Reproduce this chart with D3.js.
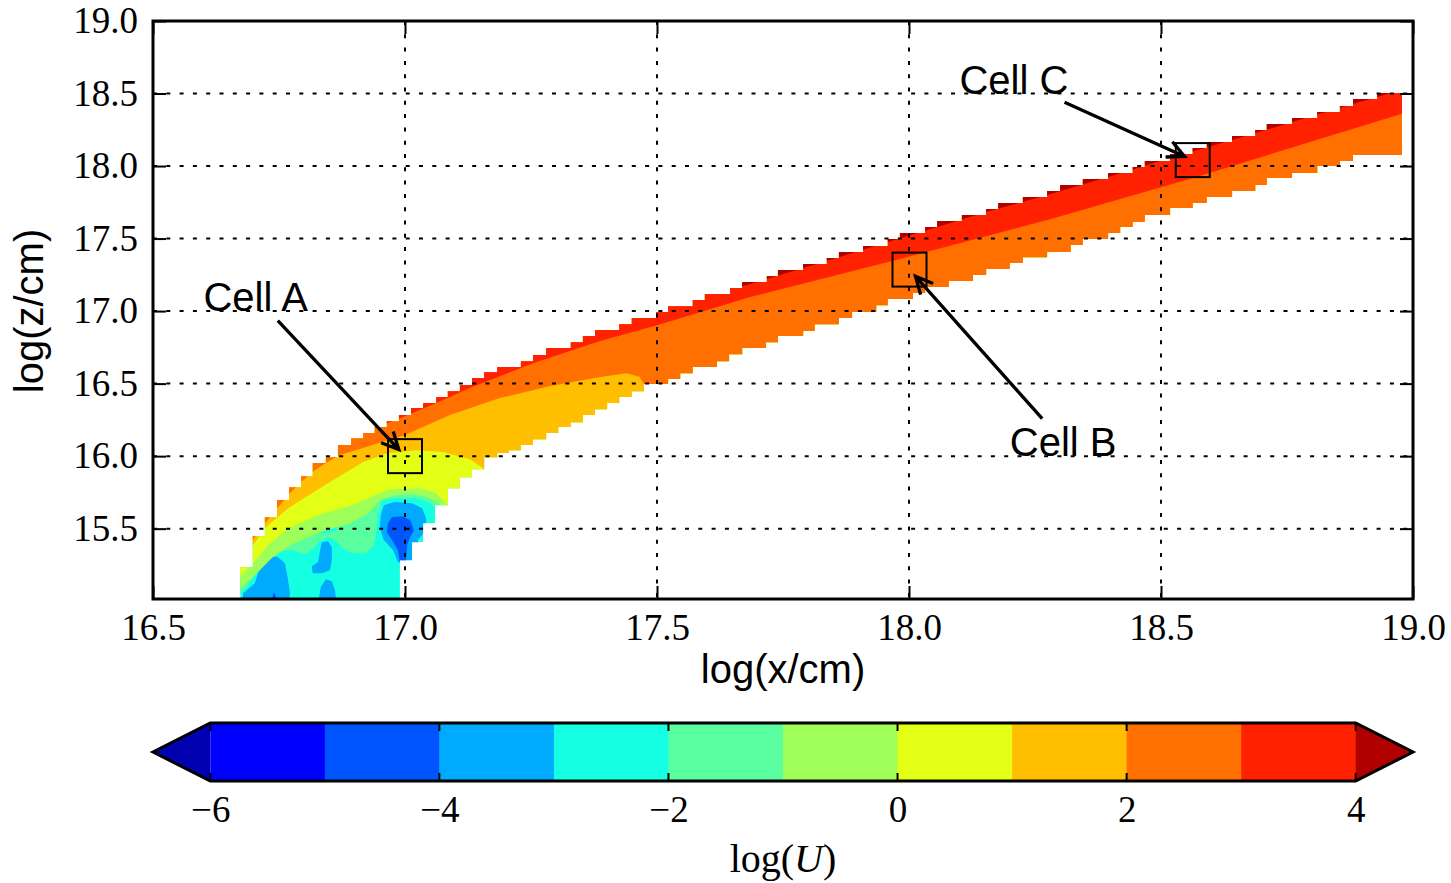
<!DOCTYPE html>
<html>
<head>
<meta charset="utf-8">
<script src="https://cdn.jsdelivr.net/npm/d3@7"></script>
<style>
  html, body { margin: 0; padding: 0; background: #fff; }
  svg { display: block; }
</style>
</head>
<body>
<svg id="chart" width="1451" height="883"></svg>
<script>
// ---------- data (log x [cm], log z [cm]) ----------
const xTicks = [16.5, 17.0, 17.5, 18.0, 18.5, 19.0];
const zTicks = [15.5, 16.0, 16.5, 17.0, 17.5, 18.0, 18.5, 19.0];
const levels = [-6, -5, -4, -3, -2, -1, 0, 1, 2, 3, 4];
const cbarTicks = [-6, -4, -2, 0, 2, 4];
// jet colours: under, ten bins, over
const levelColors = ["#0000b0", "#0000ff", "#0055ff", "#00aaff", "#15ffe2", "#59ff9e",
                     "#9eff59", "#e2ff15", "#ffbf00", "#ff7000", "#ff2100", "#b00000"];

// upper edge of the computed region, one step per grid column [x start, z]
const bandTop = [
  [16.673, 15.234], [16.698, 15.448], [16.722, 15.579], [16.746, 15.697], [16.770, 15.786],
  [16.794, 15.862], [16.817, 15.952], [16.843, 15.993], [16.867, 16.076], [16.893, 16.124],
  [16.917, 16.159], [16.940, 16.200], [16.964, 16.241], [16.988, 16.283], [17.012, 16.331],
  [17.036, 16.366], [17.062, 16.407], [17.085, 16.448], [17.109, 16.490], [17.133, 16.538],
  [17.157, 16.579], [17.183, 16.614], [17.230, 16.655], [17.254, 16.697], [17.280, 16.745],
  [17.329, 16.786], [17.353, 16.828], [17.377, 16.869], [17.425, 16.910], [17.450, 16.952],
  [17.498, 16.993], [17.522, 17.034], [17.571, 17.076], [17.595, 17.117], [17.645, 17.159],
  [17.669, 17.200], [17.718, 17.241], [17.740, 17.283], [17.790, 17.324], [17.837, 17.366],
  [17.861, 17.407], [17.909, 17.448], [17.958, 17.497], [17.982, 17.538], [18.032, 17.579],
  [18.056, 17.621], [18.105, 17.662], [18.153, 17.703], [18.177, 17.745], [18.226, 17.786],
  [18.274, 17.828], [18.300, 17.869], [18.345, 17.910], [18.395, 17.952], [18.444, 17.993],
  [18.468, 18.034], [18.518, 18.083], [18.563, 18.124], [18.591, 18.166], [18.641, 18.207],
  [18.687, 18.248], [18.710, 18.290], [18.760, 18.331], [18.810, 18.372], [18.855, 18.414],
  [18.881, 18.462], [18.929, 18.503], [18.978, 18.503]
];
// lower edge of the computed region [x start, z]
const bandBottom = [
  [16.673, 14.900], [16.990, 15.283], [17.014, 15.407], [17.036, 15.538], [17.060, 15.662],
  [17.085, 15.779], [17.109, 15.855], [17.133, 15.910], [17.157, 15.993], [17.183, 16.021],
  [17.206, 16.041], [17.230, 16.076], [17.254, 16.117], [17.280, 16.159], [17.304, 16.200],
  [17.329, 16.234], [17.353, 16.283], [17.377, 16.324], [17.401, 16.366], [17.425, 16.407],
  [17.450, 16.448], [17.474, 16.497], [17.522, 16.531], [17.546, 16.572], [17.571, 16.614],
  [17.619, 16.655], [17.643, 16.703], [17.669, 16.745], [17.716, 16.786], [17.740, 16.828],
  [17.790, 16.862], [17.813, 16.910], [17.861, 16.952], [17.887, 16.993], [17.935, 17.041],
  [17.958, 17.083], [18.008, 17.124], [18.032, 17.166], [18.079, 17.207], [18.127, 17.248],
  [18.153, 17.290], [18.200, 17.331], [18.226, 17.372], [18.274, 17.407], [18.321, 17.455],
  [18.345, 17.497], [18.395, 17.538], [18.419, 17.579], [18.444, 17.614], [18.468, 17.662],
  [18.518, 17.710], [18.563, 17.745], [18.591, 17.786], [18.641, 17.828], [18.687, 17.869],
  [18.710, 17.917], [18.760, 17.952], [18.810, 18.000], [18.855, 18.034], [18.881, 18.076],
  [18.978, 18.076]
];

// contour lines of log(U): values above each line are >= its level
const contour4 = [
  [17.665, 17.166], [17.718, 17.221], [17.790, 17.297], [17.861, 17.372], [17.958, 17.476],
  [18.056, 17.579], [18.153, 17.683], [18.274, 17.800], [18.395, 17.924], [18.518, 18.055],
  [18.641, 18.179], [18.760, 18.303], [18.881, 18.428], [18.984, 18.531]
];
const contour3 = [
  [16.665, 15.421], [16.792, 15.903], [16.891, 16.138], [16.950, 16.207], [16.990, 16.262],
  [17.062, 16.366], [17.133, 16.476], [17.254, 16.641], [17.387, 16.793], [17.500, 16.903],
  [17.685, 17.097], [17.982, 17.359], [18.280, 17.634], [18.577, 17.931], [18.776, 18.145],
  [18.984, 18.366]
];
const contour2 = [
  [16.665, 15.283], [16.698, 15.421], [16.722, 15.538], [16.746, 15.641], [16.772, 15.745],
  [16.796, 15.828], [16.819, 15.897], [16.843, 15.952], [16.871, 16.007], [16.921, 16.062],
  [17.000, 16.145], [17.089, 16.283], [17.188, 16.400], [17.288, 16.483], [17.387, 16.545],
  [17.440, 16.572], [17.466, 16.545], [17.480, 16.455], [17.490, 16.248], [17.496, 14.869]
];
const contour1 = [
  [16.665, 15.269], [16.696, 15.372], [16.722, 15.503], [16.768, 15.641], [16.796, 15.703],
  [16.851, 15.821], [16.917, 15.959], [16.966, 16.021], [17.024, 16.041], [17.075, 16.028],
  [17.129, 15.979], [17.155, 15.917], [17.173, 15.821], [17.188, 15.628]
];
const contour0 = [
  [16.665, 15.145], [16.702, 15.276], [16.728, 15.386], [16.768, 15.503], [16.827, 15.593],
  [16.895, 15.662], [16.935, 15.724], [16.970, 15.772], [17.030, 15.779], [17.062, 15.745],
  [17.081, 15.676], [17.093, 15.490]
];
const contourM1 = [
  [16.665, 15.062], [16.704, 15.186], [16.736, 15.297], [16.776, 15.393], [16.831, 15.476],
  [16.891, 15.538], [16.927, 15.607], [16.950, 15.697], [16.980, 15.731], [17.020, 15.738],
  [17.050, 15.710], [17.073, 15.662], [17.093, 15.524]
];
const contourM2 = [
  [16.665, 15.028], [16.688, 15.103], [16.708, 15.214], [16.724, 15.297], [16.748, 15.345],
  [16.776, 15.352], [16.792, 15.331], [16.808, 15.331], [16.819, 15.366], [16.831, 15.414],
  [16.847, 15.441], [16.863, 15.414], [16.875, 15.366], [16.895, 15.331], [16.921, 15.331],
  [16.938, 15.379], [16.944, 15.490], [16.946, 15.593], [16.954, 15.690], [16.980, 15.710],
  [17.020, 15.710], [17.046, 15.683], [17.062, 15.641], [17.093, 15.545]
];
// closed pockets of low log(U) near the base of the flow
const pocketM2 = [
  [16.812, 15.510], [16.827, 15.552], [16.851, 15.559], [16.867, 15.531], [16.863, 15.483],
  [16.841, 15.469], [16.819, 15.476]
];
const pocketsM3 = [
  [[16.679, 15.055], [16.702, 15.124], [16.716, 15.283], [16.726, 15.324], [16.748, 15.303],
   [16.762, 15.262], [16.768, 15.145], [16.772, 15.055], [16.768, 14.972], [16.677, 14.972]],
  [[16.835, 15.407], [16.847, 15.414], [16.855, 15.372], [16.855, 15.283], [16.851, 15.214],
   [16.835, 15.193], [16.817, 15.193], [16.815, 15.241], [16.827, 15.269], [16.831, 15.338]],
  [[16.827, 14.972], [16.833, 15.097], [16.843, 15.152], [16.855, 15.138], [16.861, 15.076],
   [16.865, 14.972]],
  [[16.952, 15.593], [16.958, 15.662], [16.980, 15.683], [17.014, 15.676], [17.034, 15.641],
   [17.042, 15.572], [17.042, 15.490], [17.026, 15.421], [17.022, 15.269], [16.986, 15.269],
   [16.976, 15.352], [16.958, 15.421], [16.950, 15.503]]
];
const pocketsM4 = [
  [[16.732, 14.980], [16.740, 15.062], [16.750, 14.980]],
  [[16.966, 15.538], [16.974, 15.579], [16.994, 15.586], [17.010, 15.559], [17.018, 15.490],
   [17.010, 15.441], [17.004, 15.386], [17.002, 15.269], [16.990, 15.269], [16.986, 15.352],
   [16.974, 15.421], [16.964, 15.476]]
];

// marked cells and their labels
const cells = [
  { name: "Cell A", x: 17.000, z: 16.000, labelX: 16.60, labelZ: 17.00 },
  { name: "Cell B", x: 18.001, z: 17.286, labelX: 18.20, labelZ: 16.00 },
  { name: "Cell C", x: 18.563, z: 18.041, labelX: 18.10, labelZ: 18.50 }
];

// ---------- layout ----------
const plot = { left: 153, right: 1413, top: 21, bottom: 599 };
const cbar = { left: 153, right: 1413, top: 723, bottom: 781 };
const serif = '"Liberation Serif", "DejaVu Serif", serif';
const sans = '"Liberation Sans", Arial, "DejaVu Sans", sans-serif';
const tickFont = 37;

const svg = d3.select("#chart");
const x = d3.scaleLinear().domain([16.5, 19.0]).range([plot.left, plot.right]);
const z = d3.scaleLinear().domain([15.015, 19.0]).range([plot.bottom, plot.top]);
const fill = d3.scaleThreshold().domain(levels).range(levelColors);

const X_FAR = 19.3, Z_FAR = 19.6;
const lineGen = d3.line().x(d => x(d[0])).y(d => z(d[1]));
const closed = pts => lineGen(pts) + "Z";
// expand [x start, z] steps into the vertices of a staircase
function stairs(pts) {
  const out = [];
  pts.forEach((p, i) => {
    out.push(p);
    if (i < pts.length - 1) out.push([pts[i + 1][0], p[1]]);
  });
  return out;
}
// polygon covering everything above a contour line (to the right and up)
function regionAbove(line) {
  const first = line[0], last = line[line.length - 1];
  return [...line, [X_FAR, last[1]], [X_FAR, Z_FAR], [first[0], Z_FAR]];
}

const defs = svg.append("defs");
defs.append("clipPath").attr("id", "plot-area").append("rect")
  .attr("x", plot.left).attr("y", plot.top)
  .attr("width", plot.right - plot.left).attr("height", plot.bottom - plot.top);
const bandOutline = [...stairs(bandTop), ...stairs(bandBottom).reverse()];
defs.append("clipPath").attr("id", "band").append("path").attr("d", closed(bandOutline));

// ---------- filled contours ----------
const layers = [
  { pts: bandOutline, v: -2.5 },
  { pts: regionAbove(contourM2), v: -1.5 },
  { pts: pocketM2, v: -2.5 },
  ...pocketsM3.map(p => ({ pts: p, v: -3.5 })),
  ...pocketsM4.map(p => ({ pts: p, v: -4.5 })),
  { pts: regionAbove(contourM1), v: -0.5 },
  { pts: regionAbove(contour0), v: 0.5 },
  { pts: regionAbove(contour1), v: 1.5 },
  { pts: regionAbove(contour2), v: 2.5 },
  { pts: regionAbove(contour3), v: 3.5 },
  { pts: regionAbove(contour4), v: 4.5 }
];
const field = svg.append("g").attr("clip-path", "url(#plot-area)")
  .append("g").attr("clip-path", "url(#band)");
field.selectAll("path").data(layers).join("path")
  .attr("d", d => closed(d.pts))
  .attr("fill", d => fill(d.v));

// ---------- grid ----------
const grid = svg.append("g").attr("stroke", "#000").attr("stroke-width", 2)
  .attr("stroke-dasharray", "4,9.3").attr("fill", "none");
grid.selectAll("line.gx").data(xTicks.slice(1, -1)).join("line").attr("class", "gx")
  .attr("x1", d => x(d)).attr("x2", d => x(d)).attr("y1", plot.top).attr("y2", plot.bottom);
grid.selectAll("line.gz").data(zTicks.slice(0, -1)).join("line").attr("class", "gz")
  .attr("y1", d => z(d)).attr("y2", d => z(d)).attr("x1", plot.left).attr("x2", plot.right);

// ---------- axes ----------
const fmt = d3.format(".1f");
function styleAxis(g) {
  g.select(".domain").remove();
  g.attr("font-family", serif).attr("font-size", tickFont);
  g.selectAll(".tick line").attr("stroke", "#000").attr("stroke-width", 2);
  g.selectAll(".tick text").attr("fill", "#000");
}
svg.append("g").attr("transform", `translate(0,${plot.bottom})`)
  .call(d3.axisBottom(x).tickValues(xTicks).tickFormat(fmt).tickSizeInner(-13).tickSizeOuter(0).tickPadding(15))
  .call(styleAxis);
svg.append("g").attr("transform", `translate(0,${plot.top})`)
  .call(d3.axisTop(x).tickValues(xTicks).tickFormat("").tickSizeInner(-13).tickSizeOuter(0))
  .call(styleAxis);
svg.append("g").attr("transform", `translate(${plot.left},0)`)
  .call(d3.axisLeft(z).tickValues(zTicks).tickFormat(fmt).tickSizeInner(-13).tickSizeOuter(0).tickPadding(15))
  .call(styleAxis);
svg.append("g").attr("transform", `translate(${plot.right},0)`)
  .call(d3.axisRight(z).tickValues(zTicks).tickFormat("").tickSizeInner(-13).tickSizeOuter(0))
  .call(styleAxis);

svg.append("rect")
  .attr("x", plot.left).attr("y", plot.top)
  .attr("width", plot.right - plot.left).attr("height", plot.bottom - plot.top)
  .attr("fill", "none").attr("stroke", "#000").attr("stroke-width", 3);

svg.append("text").attr("x", (plot.left + plot.right) / 2).attr("y", 683)
  .attr("text-anchor", "middle").attr("font-family", sans).attr("font-size", 40)
  .text("log(x/cm)");
svg.append("text").attr("transform", `translate(43,${(plot.top + plot.bottom) / 2 + 1}) rotate(-90)`)
  .attr("text-anchor", "middle").attr("font-family", sans).attr("font-size", 40)
  .text("log(z/cm)");

// ---------- marked cells ----------
const boxSize = 34;
const marks = svg.append("g");
marks.selectAll("rect").data(cells).join("rect")
  .attr("x", d => x(d.x) - boxSize / 2).attr("y", d => z(d.z) - boxSize / 2)
  .attr("width", boxSize).attr("height", boxSize)
  .attr("fill", "none").attr("stroke", "#000").attr("stroke-width", 2);

cells.forEach(c => {
  const t = marks.append("text")
    .attr("x", x(c.labelX)).attr("y", z(c.labelZ))
    .attr("font-family", sans).attr("font-size", 40).attr("fill", "#000")
    .text(c.name);
  const b = t.node().getBBox();
  const cx = b.x + b.width / 2, cy = b.y + b.height / 2;
  const tx = x(c.x), ty = z(c.z);
  const dx = tx - cx, dy = ty - cy;
  const s = Math.min((b.width / 2) / Math.abs(dx || 1e-9), (b.height / 2) / Math.abs(dy || 1e-9));
  const len = Math.hypot(dx, dy), ux = dx / len, uy = dy / len;
  const x0 = cx + s * dx + 2 * ux, y0 = cy + s * dy + 2 * uy;
  const x1 = tx - 9 * ux, y1 = ty - 9 * uy;
  const head = 19, ang = 26 * Math.PI / 180;
  const back = Math.atan2(-uy, -ux);
  const w1 = [x1 + head * Math.cos(back + ang), y1 + head * Math.sin(back + ang)];
  const w2 = [x1 + head * Math.cos(back - ang), y1 + head * Math.sin(back - ang)];
  marks.append("path")
    .attr("d", `M${x0},${y0}L${x1},${y1}M${w1[0]},${w1[1]}L${x1},${y1}L${w2[0]},${w2[1]}`)
    .attr("fill", "none").attr("stroke", "#000").attr("stroke-width", 3.3)
    .attr("stroke-linejoin", "miter");
});

// ---------- colour bar ----------
const inner = (cbar.right - cbar.left) / 1.1;
const ext = inner * 0.05;
const cb = d3.scaleLinear().domain([levels[0], levels[levels.length - 1]])
  .range([cbar.left + ext, cbar.right - ext]);
const midY = (cbar.top + cbar.bottom) / 2;
const cbg = svg.append("g");
const bins = d3.pairs(levels);
cbg.selectAll("rect").data(bins).join("rect")
  .attr("x", d => cb(d[0])).attr("y", cbar.top)
  .attr("width", d => cb(d[1]) - cb(d[0]) + 0.5).attr("height", cbar.bottom - cbar.top)
  .attr("fill", d => fill((d[0] + d[1]) / 2));
cbg.append("path")
  .attr("d", `M${cb(levels[0])},${cbar.top}L${cbar.left},${midY}L${cb(levels[0])},${cbar.bottom}Z`)
  .attr("fill", fill(levels[0] - 0.5));
cbg.append("path")
  .attr("d", `M${cb(levels[levels.length - 1])},${cbar.top}L${cbar.right},${midY}L${cb(levels[levels.length - 1])},${cbar.bottom}Z`)
  .attr("fill", fill(levels[levels.length - 1] + 0.5));
cbg.selectAll("line.tt").data(cbarTicks).join("line").attr("class", "tt")
  .attr("x1", d => cb(d)).attr("x2", d => cb(d)).attr("y1", cbar.top).attr("y2", cbar.top + 8)
  .attr("stroke", "#000").attr("stroke-width", 2);
cbg.selectAll("line.tb").data(cbarTicks).join("line").attr("class", "tb")
  .attr("x1", d => cb(d)).attr("x2", d => cb(d)).attr("y1", cbar.bottom - 8).attr("y2", cbar.bottom)
  .attr("stroke", "#000").attr("stroke-width", 2);
const lo = cb(levels[0]), hi = cb(levels[levels.length - 1]);
cbg.append("path")
  .attr("d", `M${lo},${cbar.top}L${hi},${cbar.top}L${cbar.right},${midY}L${hi},${cbar.bottom}L${lo},${cbar.bottom}L${cbar.left},${midY}Z`)
  .attr("fill", "none").attr("stroke", "#000").attr("stroke-width", 3);
svg.append("g").attr("transform", `translate(0,${cbar.bottom})`)
  .call(d3.axisBottom(cb).tickValues(cbarTicks).tickFormat(d3.format("d")).tickSize(0).tickPadding(15))
  .call(styleAxis);

const cbLabel = svg.append("text").attr("x", (cbar.left + cbar.right) / 2).attr("y", 872)
  .attr("text-anchor", "middle").attr("font-family", serif).attr("font-size", 40).attr("fill", "#000");
cbLabel.append("tspan").text("log(");
cbLabel.append("tspan").attr("font-style", "italic").text("U");
cbLabel.append("tspan").text(")");
</script>
</body>
</html>
